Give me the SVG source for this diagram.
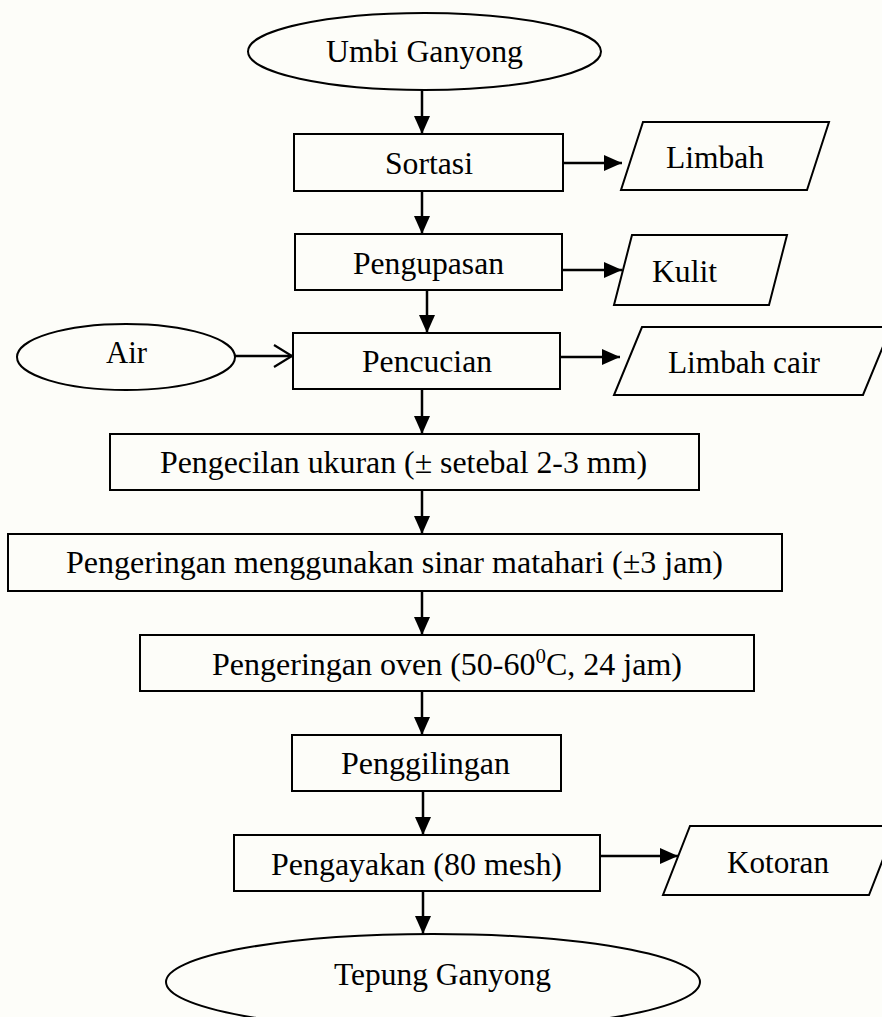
<svg xmlns="http://www.w3.org/2000/svg" width="882" height="1017" viewBox="0 0 882 1017">
<style>
.s{fill:none;stroke:#000;stroke-width:2}
.t{font-family:"Liberation Serif","Times New Roman",serif;font-size:32px;fill:#000;text-anchor:middle}
.c{fill:none;stroke:#000;stroke-width:2.5}
</style>
<defs>
<marker id="ah" viewBox="0 0 18 16" refX="18" refY="8" markerWidth="18" markerHeight="16" markerUnits="userSpaceOnUse" orient="auto">
<path d="M0,0 L18,8 L0,16 z" fill="#000"/>
</marker>
<marker id="oh" viewBox="0 0 22 26" refX="20" refY="13" markerWidth="22" markerHeight="26" markerUnits="userSpaceOnUse" orient="auto">
<path d="M2,2 L20,13 L2,24" fill="none" stroke="#000" stroke-width="2.2"/>
</marker>
</defs>
<rect x="0" y="0" width="882" height="1017" fill="#fdfdf9"/>
<g id="connectors">
<line class="c" x1="422" y1="90" x2="422" y2="134" marker-end="url(#ah)"/>
<line class="c" x1="563" y1="163" x2="622" y2="163" marker-end="url(#ah)"/>
<line class="c" x1="422" y1="191" x2="422" y2="234" marker-end="url(#ah)"/>
<line class="c" x1="562" y1="270" x2="622" y2="270" marker-end="url(#ah)"/>
<line class="c" x1="427" y1="290" x2="427" y2="333" marker-end="url(#ah)"/>
<line class="c" x1="235" y1="356" x2="292" y2="356" marker-end="url(#oh)"/>
<line class="c" x1="560" y1="357" x2="620" y2="357" marker-end="url(#ah)"/>
<line class="c" x1="422" y1="389" x2="422" y2="434" marker-end="url(#ah)"/>
<line class="c" x1="422" y1="490" x2="422" y2="534" marker-end="url(#ah)"/>
<line class="c" x1="422" y1="591" x2="422" y2="635" marker-end="url(#ah)"/>
<line class="c" x1="422" y1="691" x2="422" y2="735" marker-end="url(#ah)"/>
<line class="c" x1="423" y1="791" x2="423" y2="835" marker-end="url(#ah)"/>
<line class="c" x1="600" y1="856" x2="678" y2="856" marker-end="url(#ah)"/>
<line class="c" x1="423" y1="891" x2="423" y2="934" marker-end="url(#ah)"/>
</g>
<g id="umbi">
<ellipse class="s" cx="424.5" cy="51.5" rx="176.5" ry="38.5"/>
<text class="t" x="424.5" y="62" textLength="197" lengthAdjust="spacingAndGlyphs">Umbi Ganyong</text>
</g>
<g id="sortasi">
<rect class="s" x="294" y="134" width="269" height="57"/>
<text class="t" x="429" y="174" textLength="88" lengthAdjust="spacingAndGlyphs">Sortasi</text>
</g>
<g id="limbah">
<polygon class="s" points="643,122 829,122 807,190 621,190"/>
<text class="t" x="715" y="168" textLength="98" lengthAdjust="spacingAndGlyphs">Limbah</text>
</g>
<g id="pengupasan">
<rect class="s" x="295" y="234" width="267" height="56"/>
<text class="t" x="428.5" y="274" textLength="151" lengthAdjust="spacingAndGlyphs">Pengupasan</text>
</g>
<g id="kulit">
<polygon class="s" points="632,235 787,235 769,305 614,305"/>
<text class="t" x="684.5" y="282" textLength="65" lengthAdjust="spacingAndGlyphs">Kulit</text>
</g>
<g id="air">
<ellipse class="s" cx="126" cy="357" rx="109" ry="33"/>
<text class="t" x="126.5" y="363" textLength="41" lengthAdjust="spacingAndGlyphs">Air</text>
</g>
<g id="pencucian">
<rect class="s" x="293" y="333" width="267" height="56"/>
<text class="t" x="427" y="372" textLength="130" lengthAdjust="spacingAndGlyphs">Pencucian</text>
</g>
<g id="limbah-cair">
<polygon class="s" points="642,327 891,327 863,395 614,395"/>
<text class="t" x="744" y="373" textLength="152" lengthAdjust="spacingAndGlyphs">Limbah cair</text>
</g>
<g id="pengecilan">
<rect class="s" x="110" y="434" width="589" height="56"/>
<text class="t" x="403.5" y="473" textLength="487" lengthAdjust="spacingAndGlyphs">Pengecilan ukuran (± setebal 2-3 mm)</text>
</g>
<g id="pengeringan-matahari">
<rect class="s" x="8" y="534" width="774" height="57"/>
<text class="t" x="394.5" y="573" textLength="657" lengthAdjust="spacingAndGlyphs">Pengeringan menggunakan sinar matahari (±3 jam)</text>
</g>
<g id="pengeringan-oven">
<rect class="s" x="140" y="635" width="614" height="56"/>
<text class="t" x="447" y="675">Pengeringan oven (50-60<tspan font-size="21" dy="-12">0</tspan><tspan dy="12">C, 24 jam)</tspan></text>
</g>
<g id="penggilingan">
<rect class="s" x="292" y="735" width="269" height="56"/>
<text class="t" x="425.5" y="774" textLength="169" lengthAdjust="spacingAndGlyphs">Penggilingan</text>
</g>
<g id="pengayakan">
<rect class="s" x="234" y="835" width="366" height="56"/>
<text class="t" x="416.5" y="875" textLength="291" lengthAdjust="spacingAndGlyphs">Pengayakan (80 mesh)</text>
</g>
<g id="kotoran">
<polygon class="s" points="690,826 896,826 869,895 663,895"/>
<text class="t" x="778" y="873" textLength="102" lengthAdjust="spacingAndGlyphs">Kotoran</text>
</g>
<g id="tepung">
<ellipse class="s" cx="433" cy="982" rx="267" ry="48"/>
<text class="t" x="442.5" y="985" textLength="217" lengthAdjust="spacingAndGlyphs">Tepung Ganyong</text>
</g>
</svg>
